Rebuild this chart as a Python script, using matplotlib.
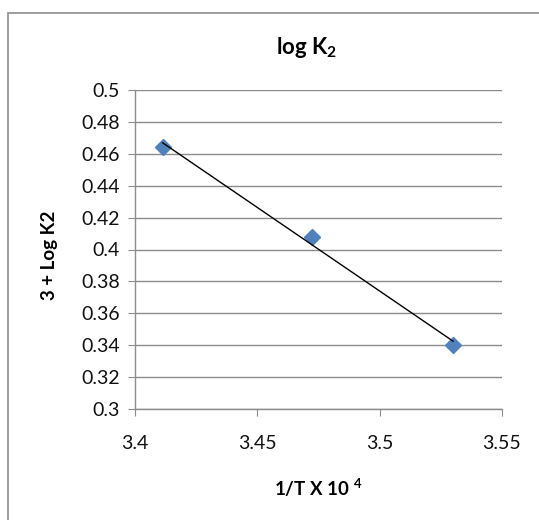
import numpy as np
import matplotlib
matplotlib.use("Agg")
import matplotlib.pyplot as plt
from matplotlib.patches import Rectangle

# data
inv_t = [3.4113, 3.4722, 3.530]       # 1/T x 10^4
log_k2 = [0.4645, 0.408, 0.340]       # 3 + log K2

x_ticks = [3.4, 3.45, 3.5, 3.55]
x_labels = ["3.4", "3.45", "3.5", "3.55"]
y_ticks = [0.3, 0.32, 0.34, 0.36, 0.38, 0.4, 0.42, 0.44, 0.46, 0.48, 0.5]
y_labels = ["0.3", "0.32", "0.34", "0.36", "0.38", "0.4", "0.42", "0.44", "0.46", "0.48", "0.5"]

plt.rcParams['font.family'] = ['Lato', 'DejaVu Sans']

fig = plt.figure(figsize=(5.39, 5.2), dpi=100)
ax = fig.add_axes([135 / 539, 1 - 409 / 520, (502 - 135) / 539, (409 - 90) / 520])

# chart frame (cut off at right and bottom like the screenshot)
fig.patches.append(Rectangle((8 / 539, -0.1), 1.2, 1 - 13 / 520 + 0.1,
                             transform=fig.transFigure, fill=False,
                             edgecolor="#8c8c8c", linewidth=1.2))

grid_c = "#8c8c8c"
ax.set_xlim(3.4, 3.55)
ax.set_ylim(0.3, 0.5)
ax.set_xticks(x_ticks)
ax.set_xticklabels(x_labels)
ax.set_yticks(y_ticks)
ax.set_yticklabels(y_labels)
ax.yaxis.grid(True, color=grid_c, linewidth=1)
ax.set_axisbelow(True)
for side in ["top", "right"]:
    ax.spines[side].set_visible(False)
for side in ["left", "bottom"]:
    ax.spines[side].set_color(grid_c)
    ax.spines[side].set_linewidth(1)
ax.tick_params(axis="both", direction="out", length=5, color=grid_c,
               labelsize=14, labelcolor="#111111")
ax.tick_params(axis="x", pad=14)
ax.tick_params(axis="y", pad=6)

# linear trend line
slope, icpt = np.polyfit(inv_t, log_k2, 1)
xs = np.array([inv_t[0], inv_t[-1]])
ax.plot(xs, slope * xs + icpt, color="black", linewidth=1, zorder=3)
ax.plot(inv_t, log_k2, linestyle="none", marker="D", markersize=8.5,
        color="#4f81bd", zorder=2, clip_on=False)

fig.text(307 / 539, 1 - 48 / 520, r"log K$_\mathregular{2}$", ha="center", va="center",
         fontsize=16, fontweight="bold")
fig.text(318 / 539, 1 - 488 / 520, r"1/T X 10 $^\mathregular{4}$", ha="center", va="center",
         fontsize=13.5, fontweight="bold")
fig.text(50 / 539, 1 - 255 / 520, "3 + Log K2", ha="center", va="center",
         rotation=90, fontsize=13.5, fontweight="bold")

fig.savefig("out.png", dpi=100)
